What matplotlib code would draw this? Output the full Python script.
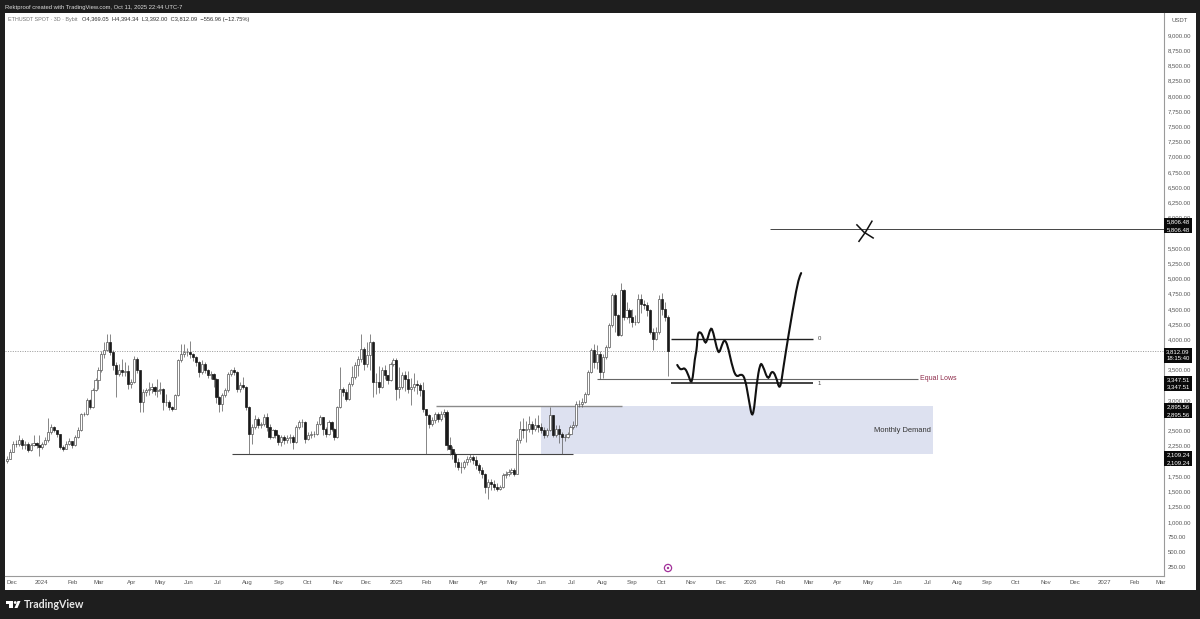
import matplotlib
matplotlib.use('Agg')
import matplotlib.pyplot as plt
from matplotlib.patches import Rectangle, Polygon, Circle, PathPatch
from matplotlib.path import Path
from matplotlib.transforms import IdentityTransform

plt.rcParams['font.family'] = ['Liberation Sans', 'DejaVu Sans']

# 3D candles
first_open = 2000
closes = [
    2038, 2147, 2284, 2273, 2350, 2257, 2284, 2186, 2257,
    2295, 2257, 2230, 2284, 2339, 2476, 2558, 2504,
    2438, 2230, 2202, 2284, 2328, 2257, 2394, 2504, 2767,
    2778, 2997, 2887, 3161, 3326, 3490, 3764, 3819, 3956, 3791,
    3572, 3435, 3490, 3463, 3479, 3271, 3298, 3682, 3490, 2969,
    3134, 3161, 3189, 3216, 3150, 3161, 3189, 2969, 2969, 2887, 2860, 3079,
    3654, 3764, 3791, 3791, 3764, 3709, 3627, 3463, 3600, 3490,
    3408, 3435, 3353, 3052, 2942, 3079, 3161, 3435, 3490, 3463,
    3189, 3243, 3216, 2887, 2449, 2558, 2695, 2586, 2613, 2723,
    2558, 2394, 2504, 2421, 2312, 2394, 2340, 2370, 2394, 2312, 2558, 2641,
    2641, 2367, 2421, 2449, 2449, 2613, 2723, 2531, 2449, 2641,
    2531, 2394, 2887, 3189, 3134, 3024, 3271, 3380, 3572, 3682,
    3846, 3600, 3737, 3956, 3298, 3298, 3216, 3490, 3408, 3326,
    3600, 3654, 3189, 3216, 3408, 3353, 3189, 3216, 3271, 3243,
    3161, 2860, 2750, 2613, 2668, 2778, 2695, 2778, 2805, 2257,
    2202, 2120, 1983, 1901, 1901, 1983, 2038, 2065, 2010, 1928,
    1846, 1791, 1572, 1654, 1627, 1572, 1545, 1572, 1764, 1791,
    1819, 1846, 1791, 2339, 2531, 2504, 2531, 2613, 2531, 2586,
    2558, 2504, 2421, 2504, 2750, 2421, 2531, 2449, 2394, 2394,
    2449, 2558, 2586, 2942, 2943, 2970, 3107, 3464, 3820, 3628,
    3765, 3464, 3710, 3875, 4231, 4724, 4395, 4066, 4806, 4368,
    4477, 4368, 4286, 4286, 4669, 4587, 4560, 4477, 4121, 4012,
    4121, 4669, 4505, 4369, 3812,
]
highs = [
    2090, 2190, 2330, 2340, 2420, 2370, 2330, 2310, 2300,
    2430, 2320, 2420, 2320, 2400, 2700, 2610, 2570,
    2500, 2450, 2260, 2330, 2370, 2320, 2420, 2560, 2790,
    2800, 3030, 3020, 3200, 3370, 3540, 3810, 3950, 4080, 4080,
    3830, 3620, 3590, 3680, 3620, 3580, 3340, 3730, 3710, 3480,
    3180, 3200, 3300, 3280, 3240, 3350, 3290, 3200, 3100, 3000, 2910, 3100,
    3680, 3930, 3930, 3850, 3970, 3780, 3730, 3650, 3660, 3620,
    3510, 3480, 3450, 3360, 3070, 3110, 3200, 3470, 3510, 3550,
    3480, 3290, 3380, 3230, 2900, 2600, 2760, 2730, 2640, 2770,
    2790, 2600, 2530, 2530, 2450, 2420, 2430, 2420, 2440, 2430, 2590, 2680,
    2690, 2650, 2470, 2490, 2500, 2650, 2750, 2730, 2560, 2680,
    2660, 2540, 2910, 3550, 3220, 3180, 3300, 3560, 3620, 3730,
    4080, 3870, 3960, 4090, 3970, 3450, 3560, 3540, 3570, 3420,
    3630, 3700, 3690, 3540, 3460, 3480, 3480, 3370, 3440, 3330,
    3280, 3300, 2860, 2780, 2720, 2810, 2800, 2820, 2860, 2830,
    2400, 2250, 2150, 2050, 1980, 2020, 2080, 2110, 2100, 2080,
    1970, 1900, 1810, 1700, 1700, 1680, 1640, 1600, 1800, 1830,
    1870, 1890, 1880, 2370, 2650, 2700, 2660, 2740, 2650, 2700,
    2760, 2620, 2560, 2540, 2880, 2760, 2590, 2590, 2480, 2440,
    2480, 2590, 2650, 2990, 3010, 3030, 3140, 3500, 3860, 3920,
    3900, 3810, 3750, 3910, 4270, 4760, 4760, 4420, 4930, 4830,
    4620, 4510, 4500, 4400, 4740, 4740, 4640, 4610, 4490, 4180,
    4200, 4730, 4760, 4620, 4394,
]
lows = [
    1960, 2030, 2140, 2230, 2250, 2200, 2190, 2150, 2170,
    2240, 2210, 2080, 2200, 2260, 2320, 2440, 2470,
    2400, 2190, 2170, 2190, 2260, 2220, 2240, 2380, 2490,
    2740, 2750, 2860, 2870, 3150, 3190, 3470, 3700, 3800, 3740,
    3500, 3050, 3400, 3390, 3400, 3190, 3200, 3280, 3440, 2800,
    2800, 3060, 3090, 3120, 3090, 3050, 3100, 2840, 2900, 2840, 2820, 2850,
    3060, 3620, 3710, 3730, 3690, 3650, 3560, 3380, 3430, 3450,
    3370, 3350, 3220, 2960, 2810, 2820, 3050, 3140, 3400, 3410,
    3130, 3140, 3180, 2840, 2110, 2280, 2520, 2540, 2540, 2580,
    2500, 2360, 2380, 2380, 2260, 2240, 2280, 2300, 2290, 2190, 2290, 2520,
    2560, 2290, 2350, 2380, 2400, 2430, 2590, 2430, 2390, 2420,
    2490, 2350, 2380, 2870, 3060, 2980, 3010, 3240, 3350, 3400,
    3620, 3500, 3550, 3500, 3050, 3100, 3120, 3200, 3350, 3270,
    3320, 3560, 3010, 3040, 3190, 3150, 3110, 2920, 3150, 3100,
    3060, 2800, 2109, 2540, 2570, 2620, 2640, 2660, 2720, 2180,
    2100, 2040, 1900, 1850, 1800, 1870, 1940, 1990, 1950, 1870,
    1800, 1720, 1480, 1380, 1520, 1530, 1500, 1520, 1560, 1720,
    1760, 1790, 1760, 1780, 2300, 2380, 2320, 2480, 2440, 2490,
    2480, 2460, 2380, 2390, 2490, 2390, 2390, 2300, 2109, 2330,
    2370, 2430, 2520, 2560, 2880, 2880, 2950, 3090, 3440, 3530,
    3510, 3350, 3360, 3680, 3860, 4210, 4120, 4050, 4050, 4320,
    4340, 4260, 4210, 4230, 4260, 4440, 4490, 4390, 4080, 3830,
    3990, 4090, 4400, 4300, 3392,
]

# hand drawn projection, in bars and price
path_x = [227.2, 227.9, 228.7, 229.8, 231.0, 232.2, 233.2, 233.8, 234.1, 234.9, 235.8, 236.7, 237.5,
          238.6, 239.4, 240.6, 241.4, 242.3, 243.2, 244.3, 245.6, 247.1, 249.0, 250.2, 251.3, 252.8,
          254.1, 255.3, 256.2, 258.0, 259.2, 260.6, 262.0, 263.2, 264.9, 267.7, 268.8, 269.6]
path_y = [3578, 3518, 3502, 3534, 3408, 3240, 3710, 3819, 4093, 4126, 4066, 3918, 4011,
          4203, 4121, 3847, 3765, 3902, 4000, 3902, 3600, 3370, 3436, 3354, 3052, 2640,
          3271, 3611, 3573, 3315, 3491, 3408, 3140, 3545, 4066, 4861, 5052, 5124]

last_price = 3812.09
target_level = 5806.48
equal_lows = 3347.51
range_high = 2895.56
range_low = 2109.24
fib_top = 4005
fib_bottom = 3280

month_pos = [1.7, 11.5, 22.4, 31.2, 42.4, 51.9, 61.7, 71.5, 81.4, 92.2, 102, 112.2, 121.7, 131.9,
             142.4, 151.5, 161.7, 171.2, 181.4, 191.5, 201.7, 211.9, 221.7, 231.9, 242, 251.9,
             262.4, 271.9, 281.7, 291.9, 302, 312.2, 322, 332.2, 342, 352.2, 362, 371.9, 382.4, 391]
month_labels = ['Dec', '2024', 'Feb', 'Mar', 'Apr', 'May', 'Jun', 'Jul', 'Aug', 'Sep', 'Oct', 'Nov', 'Dec',
                '2025', 'Feb', 'Mar', 'Apr', 'May', 'Jun', 'Jul', 'Aug', 'Sep', 'Oct', 'Nov', 'Dec',
                '2026', 'Feb', 'Mar', 'Apr', 'May', 'Jun', 'Jul', 'Aug', 'Sep', 'Oct', 'Nov', 'Dec',
                '2027', 'Feb', 'Mar']
price_ticks = list(range(250, 9001, 250))
hidden_ticks = [5750]  # sits under the target box

# (first row, second row, how far the box sits above the price, in px)
price_boxes = [
    ('5,806.48', '5,806.48', 11),
    ('3,812.09', '18:15:40', 3),
    ('3,347.51', '3,347.51', 3),
    ('2,895.56', '2,895.56', 3),
    ('2,109.24', '2,109.24', 3),
]
box_prices = [target_level, last_price, equal_lows, range_high, range_low]

W, H = 1200, 619
fig = plt.figure(figsize=(W / 100, H / 100), dpi=100, facecolor='#1e1e1e')
identity = IdentityTransform()


def px_text(x, y, s, **kw):
    fig.text(x, H - y, s, transform=identity, **kw)


fig.add_artist(Rectangle((5, H - 590), 1191, 577, transform=identity, fc='white', ec='none', zorder=-1))

ax = fig.add_axes([5 / W, (H - 575.5) / H, 1159 / W, 562.5 / H])
ax.set_xlim(-0.68, 392.2)
ax.set_ylim(118, 9362)
for name in ['top', 'left']:
    ax.spines[name].set_visible(False)
for name in ['right', 'bottom']:
    ax.spines[name].set_color('#9a9a9a')
    ax.spines[name].set_linewidth(0.8)

ax.yaxis.tick_right()
ax.set_yticks(price_ticks)
ax.set_yticklabels(['' if v in hidden_ticks else f'{v:,.2f}' for v in price_ticks])
ax.tick_params(axis='y', length=0, pad=2.6, labelsize=4.3, labelcolor='#555555')
ax.set_xticks(month_pos)
ax.set_xticklabels(month_labels)
ax.tick_params(axis='x', length=0, pad=3.5, labelsize=4.3, labelcolor='#555555')

# demand zone and levels
ax.add_patch(Rectangle((181, range_low), 132.9, range_high - range_low, fc='#dde1f0', ec='none', zorder=1))
ax.axhline(last_price, color='#777777', lw=0.5, dashes=(1.5, 2), zorder=1.5)
ax.hlines(range_high, 145.4, 208.5, color='#8a8a8a', lw=1.0, zorder=2)
ax.hlines(range_low, 76.3, 192, color='#444444', lw=0.8, zorder=2)
ax.hlines(equal_lows, 200, 308.8, color='#666666', lw=0.8, zorder=2)
ax.hlines(target_level, 258.6, 392.2, color='#444444', lw=0.7, zorder=2)
ax.hlines([fib_top, fib_bottom], 225.1, 273.2, color='#222222', lw=[1.0, 1.2], zorder=2)

# candles
for i, c in enumerate(closes):
    o = closes[i - 1] if i else first_open
    up = c >= o
    ax.vlines(i, lows[i], highs[i], color='#555555', lw=0.5, zorder=3)
    ax.bar(i, abs(c - o), bottom=min(o, c), width=0.72, fc='white' if up else '#1a1a1a',
           ec='#555555' if up else '#1a1a1a', lw=0.5, zorder=4)

# projection, smoothed with quadratic segments
verts = [(path_x[0], path_y[0])]
codes = [Path.MOVETO]
for i in range(1, len(path_x) - 1):
    verts.append((path_x[i], path_y[i]))
    verts.append(((path_x[i] + path_x[i + 1]) / 2, (path_y[i] + path_y[i + 1]) / 2))
    codes += [Path.CURVE3, Path.CURVE3]
ax.add_patch(PathPatch(Path(verts, codes), fc='none', ec='#111111', lw=1.5, capstyle='round', zorder=6))

# the X over the target
ax.plot([288.1, 290.5, 293.6], [5880, 5760, 5665], color='#111111', lw=1.1, zorder=6)
ax.plot([293.2, 291, 288.8], [5940, 5760, 5610], color='#111111', lw=1.1, zorder=6)

ax.text(274.8, fib_top, '0', fontsize=4.3, color='#444444', va='center', zorder=7)
ax.text(274.8, fib_bottom, '1', fontsize=4.3, color='#444444', va='center', zorder=7)
ax.text(309.5, equal_lows, 'Equal Lows', fontsize=5, color='#8e2b4a', va='center', zorder=7)
ax.text(313.2, 2500, 'Monthly Demand', fontsize=5.4, color='#333333', va='center', ha='right', zorder=7)

# header, top pane and bottom logo
px_text(5, 7, 'Rektproof created with TradingView.com, Oct 11, 2025 22:44 UTC-7', fontsize=4.2,
        color='#dddddd', va='center')
px_text(8, 20, 'ETHUSDT SPOT · 3D · Bybit', fontsize=3.9, color='#777777', va='center')
px_text(82, 20, 'O4,369.05  H4,394.34  L3,392.00  C3,812.09  −556.96 (−12.75%)', fontsize=4.15,
        color='#333333', va='center')
px_text(1171, 20, 'USDT', fontsize=4.3, color='#555555', va='center')

fig.add_artist(Rectangle((6, H - 604), 7, 3, transform=identity, fc='white', ec='none'))
fig.add_artist(Rectangle((9, H - 608), 4, 4, transform=identity, fc='white', ec='none'))
fig.add_artist(Circle((15.2, H - 602.5), 1.4, transform=identity, fc='white', ec='none'))
fig.add_artist(Polygon([(17.5, H - 601), (20.5, H - 601), (17.5, H - 608), (14.5, H - 608)],
                       transform=identity, fc='white', ec='none'))
px_text(24, 605, 'TradingView', fontsize=7.7, color='#e8e8e8', va='center', weight='bold',
        family=['Lato', 'DejaVu Sans'])

# the small marker on the time scale
fig.add_artist(Circle((668, H - 568), 3.6, transform=identity, fc='white', ec='#a2319a', lw=0.9))
fig.add_artist(Circle((668, H - 568), 1.2, transform=identity, fc='#a2319a', ec='none'))

# price boxes on the scale
fig.canvas.draw()
for (row1, row2, above), price in zip(price_boxes, box_prices):
    y = ax.transData.transform((0, price))[1]
    fig.add_artist(Rectangle((1164, y - 15 + above), 28, 15, transform=identity, fc='#0a0a0a', ec='none', zorder=2))
    fig.text(1178, y + above - 3.6, row1, transform=identity, fontsize=4.3, color='white',
             ha='center', va='center', zorder=3)
    fig.text(1178, y + above - 11.2, row2, transform=identity, fontsize=4.3, color='white',
             ha='center', va='center', zorder=3)

fig.savefig('out.png', dpi=100, facecolor=fig.get_facecolor())
